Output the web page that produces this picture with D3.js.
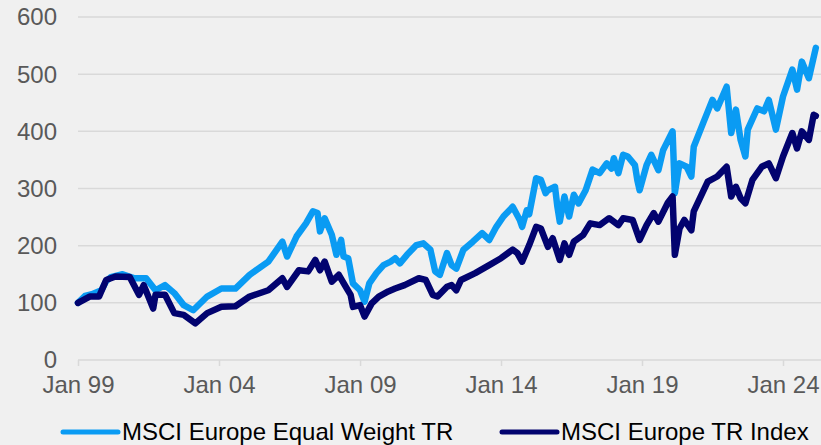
<!DOCTYPE html>
<html>
<head>
<meta charset="utf-8">
<script src="https://cdn.jsdelivr.net/npm/d3@7"></script>
<style>
  body { margin: 0; background: #f0f0f0; }
  svg { display: block; font-family: "Liberation Sans", Arial, sans-serif; }
</style>
</head>
<body>
<div id="vis"></div>
<script>
// MSCI Europe Equal Weight TR (rebased to 100, Jan 1999)
const EW_DATES = ["1999-01","1999-04","1999-07","1999-11","2000-01","2000-03","2000-08","2001-01","2001-06","2001-10",
  "2002-02","2002-06","2002-10","2003-02","2003-08","2004-02","2004-08","2005-02","2005-10","2006-04",
  "2006-06","2006-10","2007-02","2007-05","2007-07","2007-08","2007-10","2008-01","2008-03","2008-05",
  "2008-06","2008-08","2008-10","2009-01","2009-03","2009-05","2009-08","2009-11","2010-02","2010-04",
  "2010-06","2010-09","2011-01","2011-04","2011-07","2011-09","2011-11","2012-02","2012-04","2012-06",
  "2012-09","2013-01","2013-05","2013-08","2013-11","2014-02","2014-06","2014-09","2014-10","2014-12",
  "2015-01","2015-04","2015-06","2015-08","2015-09","2015-12","2016-01","2016-02","2016-04","2016-06",
  "2016-08","2016-10","2017-01","2017-04","2017-07","2017-10","2017-12","2018-01","2018-03","2018-05",
  "2018-07","2018-10","2018-11","2018-12","2019-03","2019-05","2019-08","2019-10","2020-02","2020-03",
  "2020-05","2020-08","2020-10","2020-11","2021-03","2021-07","2021-09","2022-01","2022-03","2022-05",
  "2022-07","2022-09","2022-10","2023-02","2023-05","2023-07","2023-10","2024-01","2024-05","2024-07",
  "2024-09","2024-12","2025-03"];
const EW_VALUES = [100,112,115,122,138,145,150,143,143,122,
  131,117,96,87,111,125,125,149,172,207,
  181,216,239,260,257,225,248,219,184,210,
  181,178,134,122,102,134,152,166,172,178,
  169,184,201,204,193,155,149,187,166,160,
  193,207,222,210,233,251,268,245,233,262,
  255,318,315,292,297,303,268,242,286,251,
  289,274,297,333,327,344,335,353,327,359,
  356,341,315,297,341,359,332,367,400,292,
  344,338,321,373,414,455,440,478,397,438,
  385,356,403,440,435,455,403,461,508,473,
  522,493,546];

// MSCI Europe TR Index (rebased to 100, Jan 1999)
const MS_DATES = ["1999-01","1999-06","1999-10","2000-01","2000-05","2000-11","2001-03","2001-05","2001-09","2001-10",
  "2002-02","2002-06","2002-10","2003-03","2003-08","2004-02","2004-08","2005-02","2005-10","2006-04",
  "2006-06","2006-11","2007-03","2007-06","2007-08","2007-10","2008-01","2008-04","2008-07","2008-09",
  "2008-10","2009-01","2009-03","2009-06","2009-09","2010-01","2010-04","2010-08","2011-02","2011-05",
  "2011-08","2011-10","2012-02","2012-04","2012-06","2012-08","2013-02","2013-08","2014-01","2014-06",
  "2014-08","2014-10","2015-01","2015-04","2015-06","2015-09","2015-11","2016-02","2016-04","2016-06",
  "2016-08","2016-12","2017-03","2017-07","2017-11","2018-03","2018-05","2018-09","2018-12","2019-03",
  "2019-06","2019-08","2019-12","2020-02","2020-03","2020-05","2020-07","2020-10","2020-11","2021-05",
  "2021-09","2022-01","2022-03","2022-05","2022-07","2022-09","2022-12","2023-04","2023-07","2023-10",
  "2024-01","2024-05","2024-07","2024-09","2024-12","2025-02","2025-03"];
const MS_VALUES = [100,111,111,140,146,145,114,131,90,114,
  114,82,79,64,82,93,94,111,122,143,
  128,157,155,175,157,172,137,149,128,114,
  93,96,76,99,111,120,125,131,143,140,
  114,111,128,131,122,140,152,166,178,193,
  187,172,201,233,230,198,213,175,204,184,
  207,219,239,236,248,236,248,245,210,236,
  257,242,275,286,184,230,245,227,260,312,
  321,338,286,303,283,274,315,338,344,318,
  356,397,370,400,385,429,427];

const Y_TICKS = [0, 100, 200, 300, 400, 500, 600];
const X_TICK_YEARS = [1999, 2004, 2009, 2014, 2019, 2024];

const SERIES_NAMES = ["MSCI Europe Equal Weight TR", "MSCI Europe TR Index"];
const COLORS = ["#0a9bf3", "#02036f"];

const FRAME_WIDTH = 821;
const FRAME_HEIGHT = 445;

const parse = d3.timeParse("%Y-%m");
const fmt = d3.timeFormat("Jan %y");

const FRAME = d3.select("#vis")
  .append("svg")
    .attr("width", FRAME_WIDTH)
    .attr("height", FRAME_HEIGHT);

FRAME.append("rect")
  .attr("width", FRAME_WIDTH)
  .attr("height", FRAME_HEIGHT)
  .attr("fill", "#f0f0f0");

const X_SCALE = d3.scaleTime()
  .domain([new Date(1999, 0, 1), new Date(2024, 0, 1)])
  .range([78, 783]);

const Y_SCALE = d3.scaleLinear()
  .domain([0, 600])
  .range([360, 17]);

// grid lines
FRAME.append("g")
  .selectAll("line")
  .data(Y_TICKS)
  .enter()
  .append("line")
    .attr("x1", 78)
    .attr("x2", FRAME_WIDTH)
    .attr("y1", d => Y_SCALE(d))
    .attr("y2", d => Y_SCALE(d))
    .attr("stroke", "#d9d9d9")
    .attr("stroke-width", 1.5);

// y axis labels
FRAME.append("g")
  .selectAll("text")
  .data(Y_TICKS)
  .enter()
  .append("text")
    .attr("x", 57)
    .attr("y", d => Y_SCALE(d))
    .attr("dy", "0.35em")
    .attr("text-anchor", "end")
    .attr("font-size", "24px")
    .attr("fill", "#595959")
    .text(d => d);

// x axis
const xAxis = FRAME.append("g")
  .attr("transform", "translate(0," + Y_SCALE(0) + ")")
  .call(d3.axisBottom(X_SCALE)
    .tickValues(X_TICK_YEARS.map(y => new Date(y, 0, 1)))
    .tickFormat(fmt)
    .tickSize(6)
    .tickPadding(10));
xAxis.select(".domain").remove();
xAxis.selectAll("line").attr("stroke", "#d9d9d9").attr("stroke-width", 1.5);
xAxis.selectAll("text")
  .attr("font-size", "24px")
  .attr("fill", "#595959")
  .attr("font-family", "Liberation Sans, Arial, sans-serif");

// lines
const line = d3.line()
  .x(d => X_SCALE(d.date))
  .y(d => Y_SCALE(d.value));

const ewData = EW_DATES.map((d, i) => ({date: parse(d), value: EW_VALUES[i]}));
const msData = MS_DATES.map((d, i) => ({date: parse(d), value: MS_VALUES[i]}));

[ewData, msData].forEach((data, i) => {
  FRAME.append("path")
    .datum(data)
    .attr("d", line)
    .attr("fill", "none")
    .attr("stroke", COLORS[i])
    .attr("stroke-width", 6.5)
    .attr("stroke-linejoin", "round")
    .attr("stroke-linecap", "round");
});

// legend
const LEGEND_X = [63, 502];
const legend = FRAME.append("g");
SERIES_NAMES.forEach((name, i) => {
  legend.append("line")
    .attr("x1", LEGEND_X[i])
    .attr("x2", LEGEND_X[i] + 55)
    .attr("y1", 432)
    .attr("y2", 432)
    .attr("stroke", COLORS[i])
    .attr("stroke-width", 5)
    .attr("stroke-linecap", "round");
  legend.append("text")
    .attr("x", LEGEND_X[i] + 59)
    .attr("y", 440)
    .attr("font-size", "24px")
    .attr("fill", "#000")
    .text(name);
});
</script>
</body>
</html>
